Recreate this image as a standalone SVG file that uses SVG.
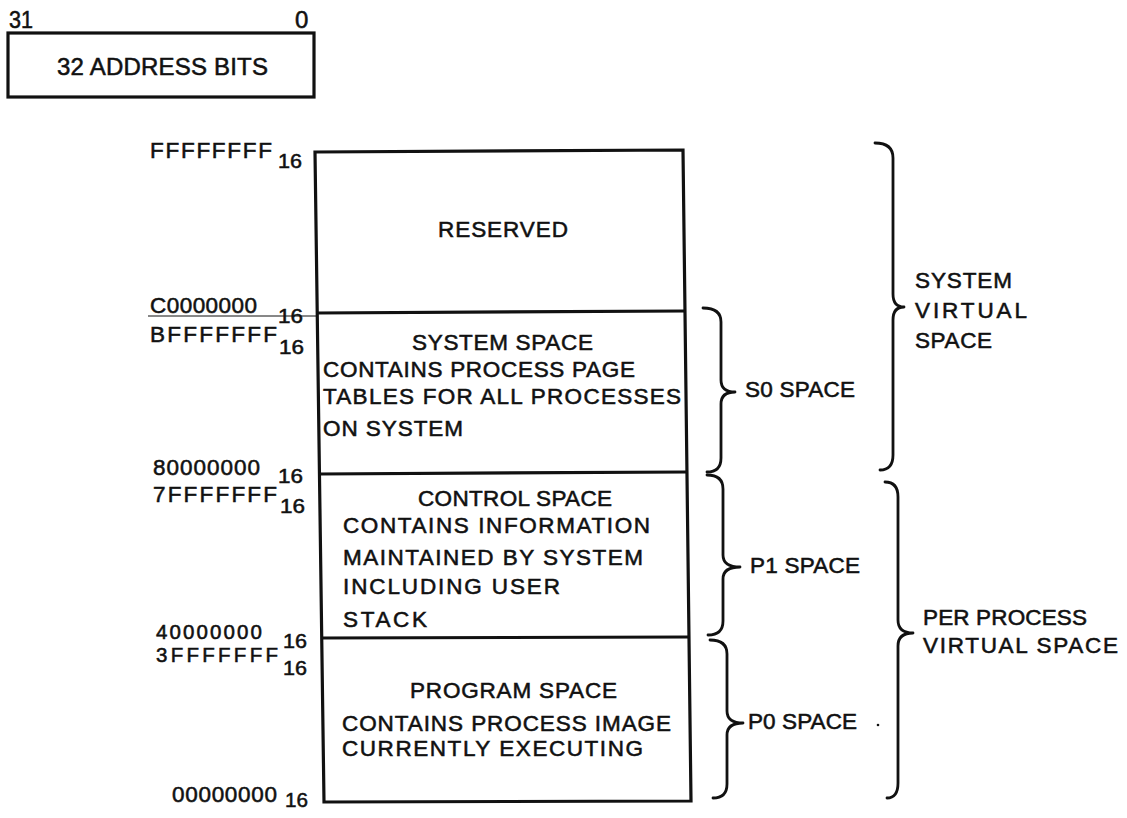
<svg xmlns="http://www.w3.org/2000/svg" width="1127" height="818" viewBox="0 0 1127 818">
<style>
text{font-family:"Liberation Sans",Arial,sans-serif;font-size:22.5px;fill:#111;stroke:#111;stroke-width:0.55px}
.sub{font-size:21px}
.sm{font-size:20.5px}
.big{font-size:24px}
.box{fill:none;stroke:#111;stroke-width:3.2;stroke-linejoin:miter}
.div{stroke:#111;stroke-width:3.2}
.brace{fill:none;stroke:#111;stroke-width:2.8;stroke-linecap:round;stroke-linejoin:round}
</style>
<rect width="1127" height="818" fill="#fff"/>

<g id="address-bits">
<text class="big" x="9" y="28" textLength="24" lengthAdjust="spacingAndGlyphs">31</text>
<text class="big" x="295" y="28">0</text>
<rect x="8" y="33" width="306" height="64" class="box"/>
<text class="big" x="57" y="75" textLength="211" lengthAdjust="spacing">32 ADDRESS BITS</text>
</g>

<g id="memory-box">
<path class="box" d="M315,152 L683,150 L691,801 L324,802 Z"/>
</g>

<g id="reserved">
<text x="438" y="237" textLength="130" lengthAdjust="spacing">RESERVED</text>
</g>

<g id="system-space">
<line class="div" x1="317" y1="313" x2="685" y2="311"/>
<text x="412" y="350" textLength="181" lengthAdjust="spacing">SYSTEM SPACE</text>
<text x="323" y="377" textLength="312" lengthAdjust="spacing">CONTAINS PROCESS PAGE</text>
<text x="323" y="404" textLength="358" lengthAdjust="spacing">TABLES FOR ALL PROCESSES</text>
<text x="323" y="436" textLength="140" lengthAdjust="spacing">ON SYSTEM</text>
</g>

<g id="control-space">
<line class="div" x1="319" y1="474" x2="687" y2="472"/>
<text x="418" y="506" textLength="194" lengthAdjust="spacing">CONTROL SPACE</text>
<text x="343" y="533" textLength="307" lengthAdjust="spacing">CONTAINS INFORMATION</text>
<text x="343" y="565" textLength="300" lengthAdjust="spacing">MAINTAINED BY SYSTEM</text>
<text x="343" y="594" textLength="217" lengthAdjust="spacing">INCLUDING USER</text>
<text x="343" y="627" textLength="84" lengthAdjust="spacing">STACK</text>
</g>

<g id="program-space">
<line class="div" x1="321" y1="638" x2="689" y2="637"/>
<text x="410" y="698" textLength="207" lengthAdjust="spacing">PROGRAM SPACE</text>
<text x="342" y="731" textLength="329" lengthAdjust="spacing">CONTAINS PROCESS IMAGE</text>
<text x="342" y="756" textLength="301" lengthAdjust="spacing">CURRENTLY EXECUTING</text>
</g>

<g id="address-labels">
<text x="150" y="158" textLength="122" lengthAdjust="spacing">FFFFFFFF</text>
<text class="sub" x="278" y="168" textLength="24" lengthAdjust="spacingAndGlyphs">16</text>
<line x1="148" y1="316" x2="316" y2="316" stroke="#111" stroke-width="1"/>
<text x="150" y="313" textLength="107" lengthAdjust="spacing">C0000000</text>
<text class="sub" x="278" y="323" textLength="25" lengthAdjust="spacingAndGlyphs">16</text>
<text x="150" y="342" textLength="127" lengthAdjust="spacing">BFFFFFFF</text>
<text class="sub" x="279" y="354" textLength="25" lengthAdjust="spacingAndGlyphs">16</text>
<text x="153" y="475" textLength="107" lengthAdjust="spacing">80000000</text>
<text class="sub" x="278" y="483" textLength="25" lengthAdjust="spacingAndGlyphs">16</text>
<text x="153" y="502" textLength="124" lengthAdjust="spacing">7FFFFFFF</text>
<text class="sub" x="280" y="513" textLength="25" lengthAdjust="spacingAndGlyphs">16</text>
<text class="sm" x="156" y="639" textLength="106" lengthAdjust="spacing">40000000</text>
<text class="sub" x="283" y="648" textLength="24" lengthAdjust="spacingAndGlyphs">16</text>
<text class="sm" x="156" y="662" textLength="122" lengthAdjust="spacing">3FFFFFFF</text>
<text class="sub" x="283" y="675" textLength="24" lengthAdjust="spacingAndGlyphs">16</text>
<text x="172" y="802" textLength="105" lengthAdjust="spacing">00000000</text>
<text class="sub" x="285" y="807" textLength="23" lengthAdjust="spacingAndGlyphs">16</text>
</g>

<g id="connectors">
<path class="brace" d="M875,143 Q893,143 893,158 L893,294 Q893,307 904,307 Q893,307 893,320 L893,455 Q893,470 880,470"/>
<path class="brace" d="M703,308 Q721,308 721,322 L721,380 Q721,392 735,392 Q721,392 721,404 L721,458 Q721,472 707,472"/>
<path class="brace" d="M707,475 Q723,475 723,489 L723,555 Q723,567 740,567 Q723,567 723,579 L723,621 Q723,635 708,635"/>
<path class="brace" d="M710,640 Q727,640 727,654 L727,711 Q727,723 743,723 Q727,723 727,735 L727,784 Q727,798 713,798"/>
<path class="brace" d="M885,482 Q898,482 898,497 L898,620 Q898,633 913,633 Q898,633 898,646 L898,783 Q898,798 887,798"/>
</g>

<g id="system-virtual-label">
<text x="915" y="288" textLength="97" lengthAdjust="spacing">SYSTEM</text>
<text x="915" y="318" textLength="112" lengthAdjust="spacing">VIRTUAL</text>
<text x="915" y="348" textLength="77" lengthAdjust="spacing">SPACE</text>
</g>
<g id="s0-label"><text x="745" y="397" textLength="110" lengthAdjust="spacing">S0 SPACE</text></g>
<g id="p1-label"><text x="750" y="573" textLength="110" lengthAdjust="spacing">P1 SPACE</text></g>
<g id="p0-label"><text x="748" y="729" textLength="109" lengthAdjust="spacing">P0 SPACE</text><circle cx="878" cy="725" r="1.3" fill="#111"/></g>
<g id="per-process-label">
<text x="923" y="625" textLength="164" lengthAdjust="spacing">PER PROCESS</text>
<text x="923" y="653" textLength="195" lengthAdjust="spacing">VIRTUAL SPACE</text>
</g>
</svg>
